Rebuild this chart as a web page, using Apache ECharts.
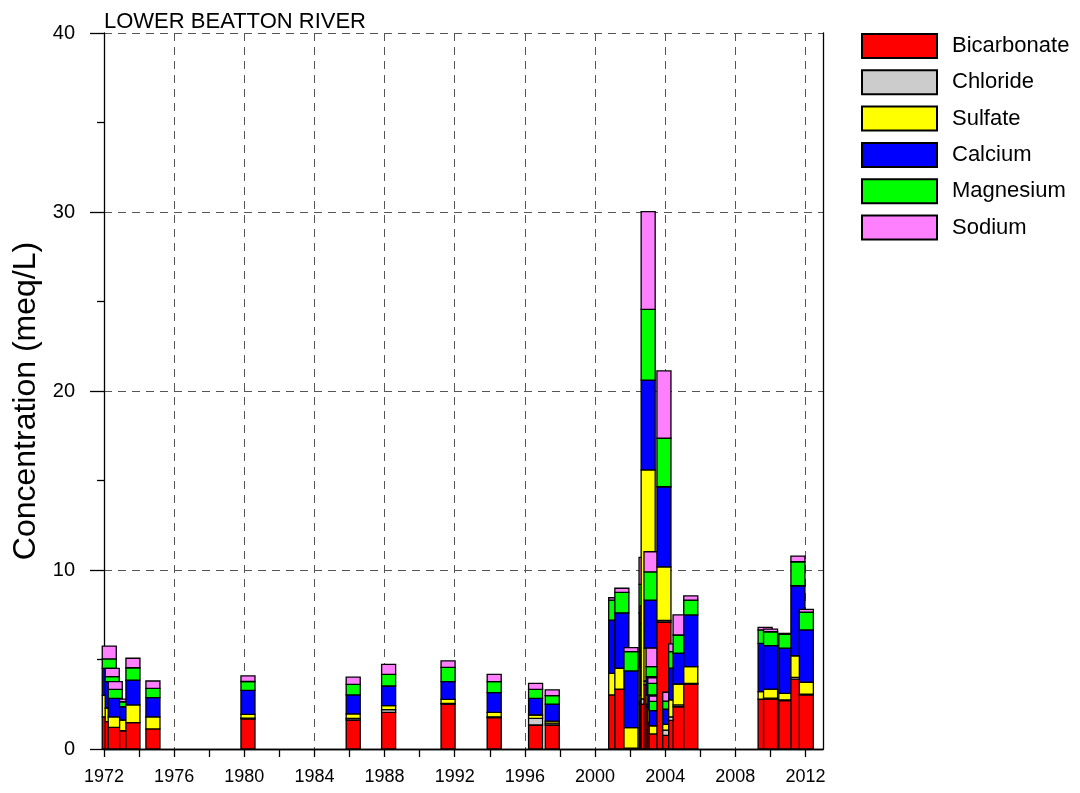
<!DOCTYPE html>
<html><head><meta charset="utf-8">
<script src="https://cdn.jsdelivr.net/npm/echarts@6/dist/echarts.min.js"></script>
<style>html,body{margin:0;padding:0;background:#fff}#c{width:1080px;height:793px}</style>
</head><body><div id="c"></div>
<script>
const titleText = 'LOWER BEATTON RIVER';
const yAxisName = 'Concentration (meq/L)';
const componentNames = ['Bicarbonate', 'Chloride', 'Sulfate', 'Calcium', 'Magnesium', 'Sodium'];
const componentColors = ['#ff0000', '#cccccc', '#ffff00', '#0000ff', '#00ff00', '#ff80ff'];

// sample dates (decimal years), drawn in this order (later samples on top)
const sampleDates = [1972.30, 1972.47, 1972.64, 1973.29, 1973.65, 1974.79, 1980.21, 1986.21, 1988.23, 1991.62,
  1994.25, 1996.61, 1997.56, 2001.18, 2001.53, 2002.05, 2002.91, 2002.97, 2003.03, 2003.19,
  2003.31, 2003.41, 2003.49, 2003.93, 2004.26, 2004.60, 2004.85, 2005.46, 2009.70, 2010.01,
  2010.88, 2011.57, 2012.05];
const bicarbonate = [1.80, 1.53, 1.21, 1.02, 1.47, 1.12, 1.68, 1.62, 2.05, 2.50,
  1.75, 1.34, 1.34, 3.02, 3.35, 0.05, 2.50, 2.60, 2.50, 3.60,
  2.40, 1.40, 0.84, 7.08, 0.76, 1.60, 2.36, 3.62, 2.78, 2.79,
  2.70, 3.90, 3.02];
const chloride = [0.00, 0.00, 0.00, 0.00, 0.00, 0.00, 0.05, 0.09, 0.15, 0.05,
  0.05, 0.37, 0.10, 0.00, 0.00, 0.00, 0.10, 0.10, 0.30, 0.20,
  0.10, 0.10, 0.00, 0.10, 0.30, 0.20, 0.10, 0.05, 0.00, 0.05,
  0.04, 0.10, 0.05];
const sulfate = [1.20, 0.76, 0.59, 0.60, 0.99, 0.68, 0.20, 0.25, 0.22, 0.22,
  0.25, 0.19, 0.12, 1.21, 1.16, 1.14, 2.00, 0.30, 12.79, 1.83,
  0.50, 0.70, 0.46, 3.00, 0.32, 0.94, 1.17, 0.93, 0.42, 0.51,
  0.37, 1.21, 0.66];
const calcium = [1.50, 1.47, 1.03, 0.74, 1.39, 1.07, 1.34, 1.06, 1.10, 0.99,
  1.10, 0.93, 0.95, 2.97, 3.10, 3.17, 3.00, 2.50, 5.02, 2.69,
  1.04, 0.82, 0.84, 4.47, 0.84, 1.77, 1.72, 2.89, 2.70, 2.42,
  2.52, 3.91, 2.92];
const magnesium = [0.53, 0.28, 0.50, 0.28, 0.69, 0.52, 0.50, 0.59, 0.65, 0.80,
  0.61, 0.50, 0.47, 1.12, 1.14, 1.08, 1.60, 1.50, 3.95, 1.58,
  0.56, 0.65, 0.52, 2.71, 0.45, 0.93, 1.02, 0.83, 0.75, 0.78,
  0.78, 1.34, 0.99];
const sodium = [0.72, 0.46, 0.43, 0.15, 0.53, 0.41, 0.31, 0.40, 0.56, 0.36,
  0.41, 0.34, 0.32, 0.13, 0.23, 0.22, 1.50, 1.00, 5.46, 1.12,
  1.03, 0.31, 0.30, 3.76, 0.50, 0.43, 1.12, 0.23, 0.15, 0.15,
  0.05, 0.32, 0.16];

const xTickLabels = [1972, 1976, 1980, 1984, 1988, 1992, 1996, 2000, 2004, 2008, 2012];
const xTickMarks = [1972, 1974, 1976, 1978, 1980, 1982, 1984, 1986, 1988, 1990, 1992, 1994, 1996, 1998,
  2000, 2002, 2004, 2006, 2008, 2010, 2012];
const yTickLabels = [0, 10, 20, 30, 40];

const barWidthYears = 0.8;
const FONT = 'Liberation Sans, Arial, sans-serif';

const rows = sampleDates.map((d, i) => [d, bicarbonate[i], chloride[i], sulfate[i], calcium[i], magnesium[i], sodium[i]]);

function renderItem(params, api) {
  const d = api.value(0);
  const half = barWidthYears / 2;
  let base = 0;
  const children = [];
  for (let k = 0; k < 6; k++) {
    const v = api.value(k + 1);
    if (!(v > 0)) continue;
    const p0 = api.coord([d - half, base]);
    const p1 = api.coord([d + half, base + v]);
    children.push({
      type: 'rect',
      shape: { x: p0[0], y: p1[1], width: p1[0] - p0[0], height: p0[1] - p1[1] },
      style: { fill: componentColors[k], stroke: '#000', lineWidth: 1.3 }
    });
    base += v;
  }
  return { type: 'group', children };
}

const legendSeries = componentNames.map((n, k) => ({
  name: n, type: 'bar', data: [], xAxisIndex: 0, yAxisIndex: 0,
  itemStyle: { color: componentColors[k], borderColor: '#000', borderWidth: 1.3 }
}));

const chart = echarts.init(document.getElementById('c'), null, { renderer: 'canvas' });
chart.setOption({
  animation: false,
  backgroundColor: '#fff',
  title: {
    text: titleText, left: 104, top: 11, padding: 0,
    textStyle: { fontFamily: FONT, fontSize: 22, fontWeight: 'normal', color: '#000' }
  },
  legend: {
    orient: 'vertical', left: 861, top: 33, padding: 0,
    icon: 'rect', itemWidth: 75, itemHeight: 24, itemGap: 10.3,
    data: componentNames,
    selectedMode: false,
    textStyle: { fontFamily: FONT, fontSize: 22, lineHeight: 24, color: '#000', padding: [0, 0, 0, 10] }
  },
  grid: { left: 104, right: 257, top: 33, bottom: 44 },
  xAxis: [
    {
      type: 'value', min: 1972, max: 2013, position: 'bottom',
      axisLine: { show: true, lineStyle: { color: '#000', width: 1.3 } },
      axisTick: { show: true, inside: false, length: 8, lineStyle: { color: '#000', width: 1.3 },
        customValues: xTickMarks },
      axisLabel: { customValues: xTickLabels, margin: 19, fontFamily: FONT, fontSize: 18, color: '#000',
        formatter: v => String(v) },
      splitLine: { show: false }
    },
    {
      type: 'value', min: 1972, max: 2013, interval: 4, position: 'top',
      axisLine: { show: true, lineStyle: { color: '#000', width: 1.3 } },
      axisTick: { show: false }, axisLabel: { show: false },
      splitLine: { show: true, lineStyle: { color: '#555', width: 1, type: [8, 6] } }
    }
  ],
  yAxis: [
    {
      type: 'value', min: 0, max: 40, interval: 10, position: 'left',
      name: yAxisName, nameLocation: 'middle', nameRotate: 90, nameGap: 58,
      nameTextStyle: { fontFamily: FONT, fontSize: 32, color: '#000', padding: [0, 20, 0, 0] },
      axisLine: { show: true, lineStyle: { color: '#000', width: 1.3 } },
      axisTick: { show: true, inside: false, length: 14, lineStyle: { color: '#000', width: 1.3 } },
      minorTick: { show: true, splitNumber: 2, length: 7, lineStyle: { color: '#000', width: 1.3 } },
      axisLabel: { margin: 29, fontFamily: FONT, fontSize: 20, color: '#000',
        customValues: yTickLabels, formatter: v => String(v) },
      splitLine: { show: true, lineStyle: { color: '#555', width: 1, type: [8, 6] } }
    },
    {
      type: 'value', min: 0, max: 40, position: 'right',
      axisLine: { show: true, lineStyle: { color: '#000', width: 1.3 } },
      axisTick: { show: false }, axisLabel: { show: false }, splitLine: { show: false }
    }
  ],
  series: legendSeries.concat([{
    type: 'custom', name: 'samples', renderItem, clip: false,
    xAxisIndex: 0, yAxisIndex: 0,
    encode: { x: 0, y: [1, 2, 3, 4, 5, 6] },
    data: rows
  }])
});
</script></body></html>
